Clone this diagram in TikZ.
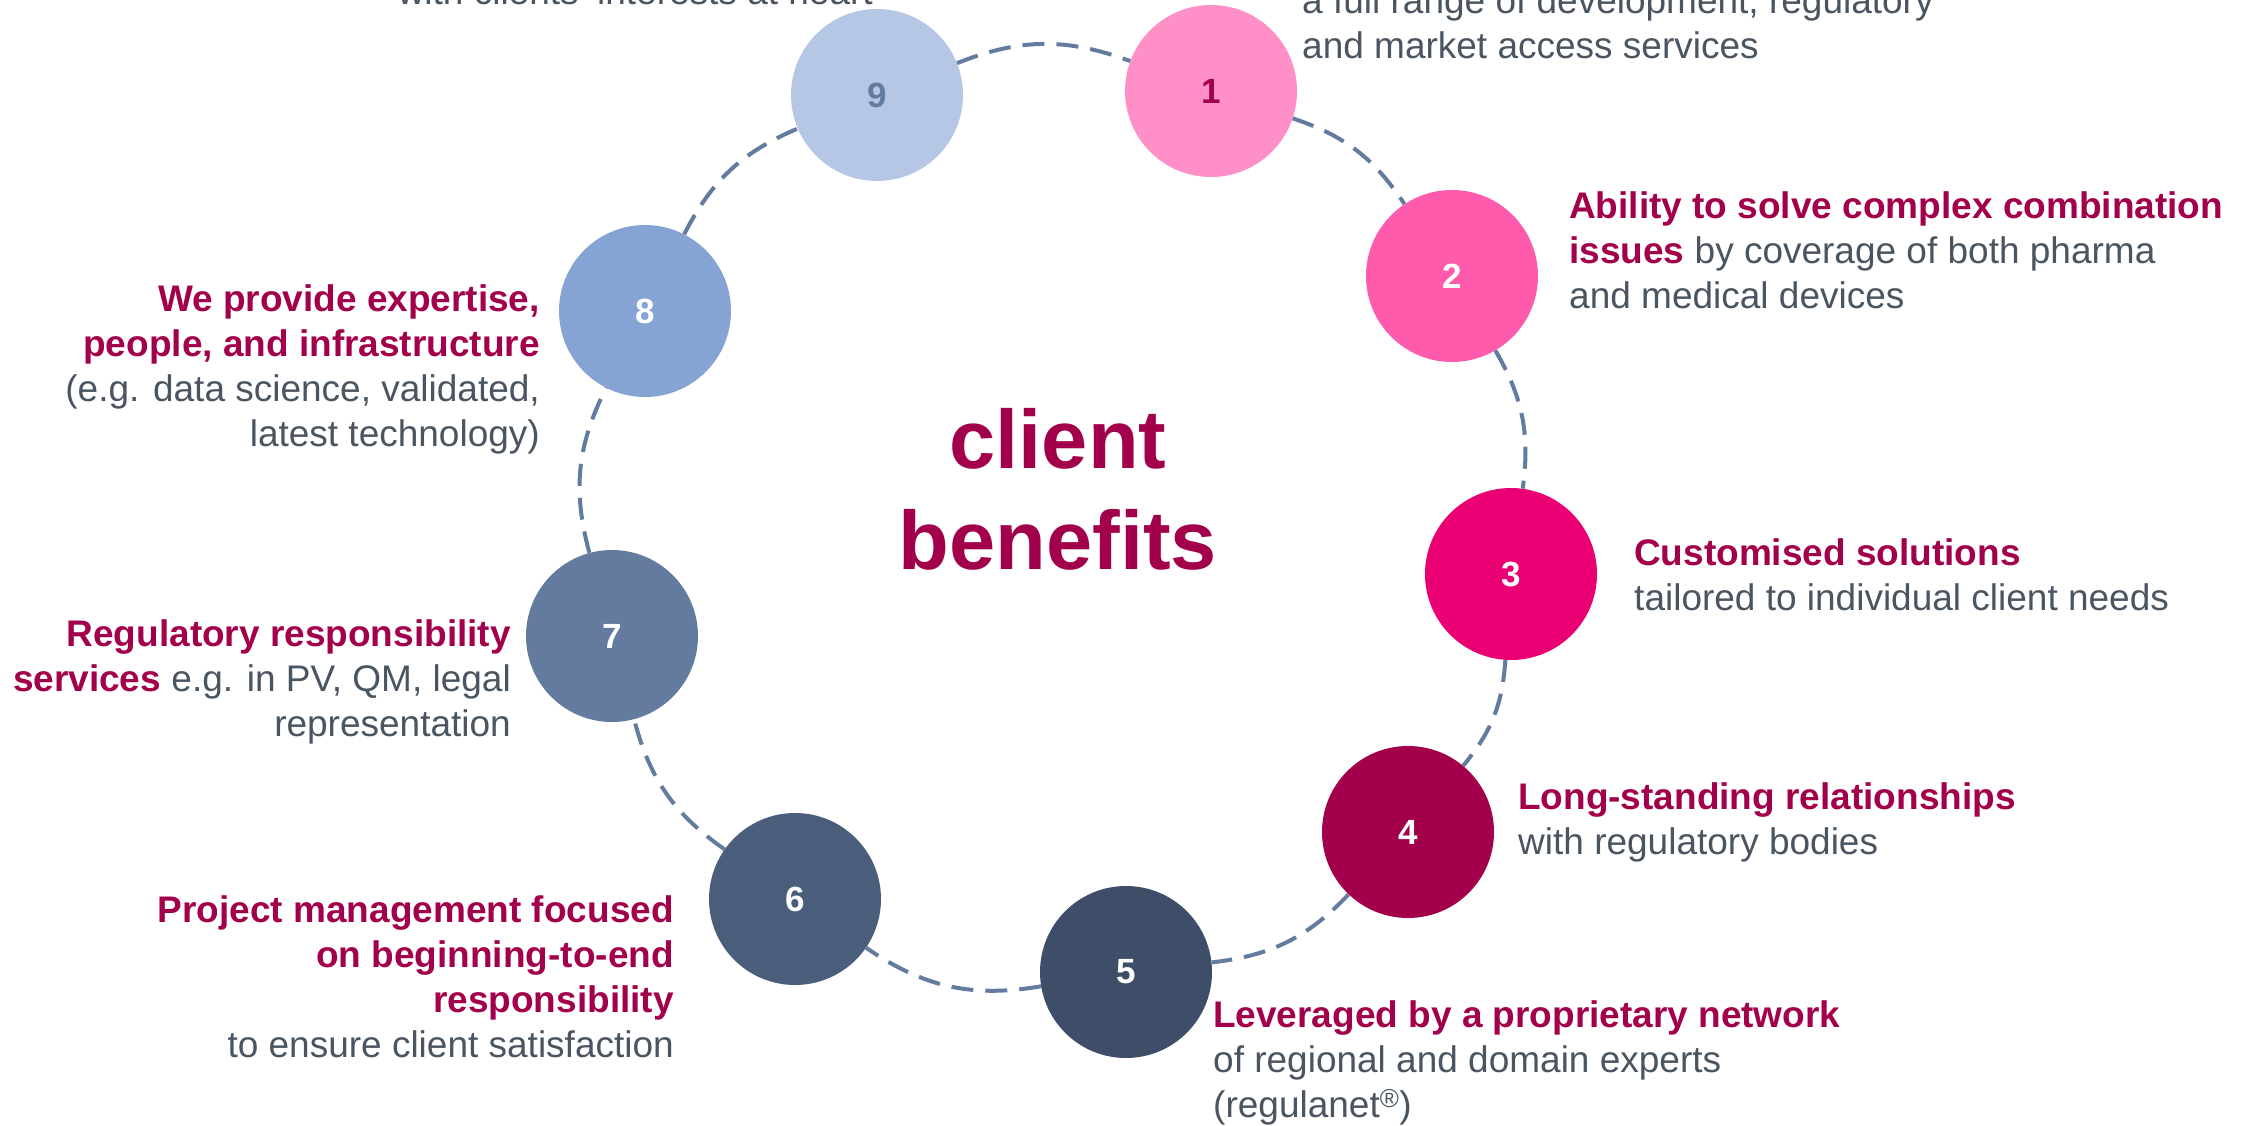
\documentclass[tikz,border=0pt]{standalone}
\usepackage{fontspec}
\setmainfont{Liberation Sans}
\usepackage{xcolor}
\usetikzlibrary{positioning}

\definecolor{benefitred}{HTML}{A3004B}
\definecolor{bodygray}{HTML}{4A5562}
\definecolor{ringblue}{HTML}{627B9F}
\definecolor{dotone}{HTML}{FF8FC7}
\definecolor{dottwo}{HTML}{FF5BAC}
\definecolor{dotthree}{HTML}{EB0073}
\definecolor{dotfour}{HTML}{A3004B}
\definecolor{dotfive}{HTML}{3E4E69}
\definecolor{dotsix}{HTML}{4A5D7B}
\definecolor{dotseven}{HTML}{627B9F}
\definecolor{doteight}{HTML}{85A3D3}
\definecolor{dotnine}{HTML}{B6C7E6}

\newcommand{\bhead}[1]{{\bfseries\color{benefitred}#1}}

\begin{document}
\begin{tikzpicture}[x=1pt,y=1pt,
		dot/.style={circle,minimum size=172pt,inner sep=0pt,text=white,
			font=\bfseries\fontsize{35}{35}\selectfont},
		ring/.style={draw=ringblue,line width=4pt,dash pattern=on 22pt off 12pt},
		desc/.style={inner sep=0pt,text=bodygray,font=\fontsize{37}{45}\selectfont},
		title/.style={inner sep=0pt,anchor=base,text=benefitred,
			font=\bfseries\fontsize{83}{101}\selectfont}]
	\useasboundingbox (0,0) rectangle (2254,-1126);
	\clip (0,0) rectangle (2254,-1126);

	% the nine benefits round the ring
	\node[dot,fill=dotnine,text=ringblue] (d9) at (877,-95) {9};
	\node[dot,fill=dotone,text=benefitred] (d1) at (1211,-91) {1};
	\node[dot,fill=dottwo] (d2) at (1452,-276) {2};
	\node[dot,fill=dotthree] (d3) at (1511,-574) {3};
	\node[dot,fill=dotfour] (d4) at (1408,-832) {4};
	\node[dot,fill=dotfive] (d5) at (1126,-972) {5};
	\node[dot,fill=dotsix] (d6) at (795,-899) {6};
	\node[dot,fill=dotseven] (d7) at (612,-636) {7};
	\node[dot,fill=doteight] (d8) at (645,-311) {8};

	\draw[ring] (d9) to[bend left=21] (d1);
	\draw[ring] (d1) to[bend left=19] (d2);
	\draw[ring] (d2) to[bend left=19] (d3);
	\draw[ring] (d3) to[bend left=18] (d4);
	\draw[ring] (d4) to[bend left=20] (d5);
	\draw[ring] (d5) to[bend left=22] (d6);
	\draw[ring] (d6) to[bend left=20] (d7);
	\draw[ring] (d7) to[bend left=21] (d8);
	\draw[ring] (d8) to[bend left=20] (d9);

	\node[title] (client) at (1058,-468) {client};
	\node[title] (benefits) at (1058,-569) {benefits};

	% texts right of the ring (base = last line)
	\node[desc,anchor=base west,align=left] (t1) at (1302,-59)
		{a full range of development, regulatory\\and market access services};
	\node[desc,anchor=base west,align=left] (t2) at (1569,-308)
		{\bhead{Ability to solve complex combination}\\\bhead{issues} by coverage of both pharma\\and medical devices};
	\node[desc,anchor=base west,align=left] (t3) at (1634,-610)
		{\bhead{Customised solutions}\\tailored to individual client needs};
	\node[desc,anchor=base west,align=left] (t4) at (1518,-854)
		{\bhead{Long-standing relationships}\\with regulatory bodies};
	\node[desc,anchor=base west,align=left] (t5) at (1213,-1117)
		{\bhead{Leveraged by a proprietary network}\\of regional and domain experts\\(regulanet\textsuperscript{®})};

	% texts left of the ring
	\node[desc,anchor=base east,align=right] (t6) at (674,-1057)
		{\bhead{Project management focused}\\\bhead{on beginning-to-end}\\\bhead{responsibility}\\to ensure client satisfaction};
	\node[desc,anchor=base east,align=right] (t7) at (511,-736)
		{\bhead{Regulatory responsibility}\\\bhead{services} e.g. in PV, QM, legal\\representation};
	\node[desc,anchor=base east,align=right] (t8) at (540,-446)
		{\bhead{We provide expertise,}\\\bhead{people, and infrastructure}\\(e.g. data science, validated,\\latest technology)};
	\node[desc,anchor=base east,align=right] (t9) at (873,-5)
		{with clients' interests at heart};
\end{tikzpicture}
\end{document}
